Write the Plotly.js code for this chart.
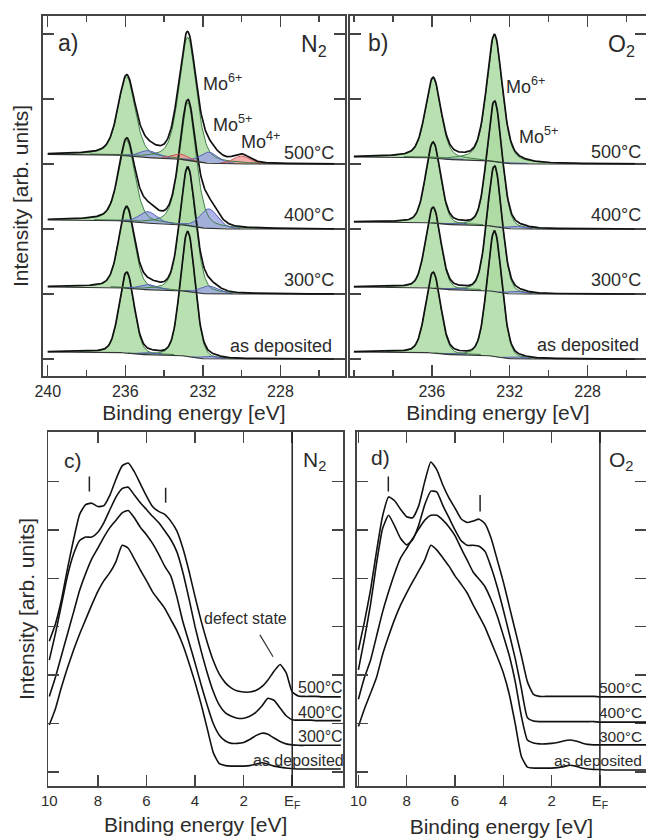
<!DOCTYPE html>
<html><head><meta charset="utf-8">
<script src="https://cdn.plot.ly/plotly-3.0.1.min.js"></script>
<style>html,body{margin:0;padding:0;background:#fff}#chart{width:646px;height:840px}</style>
</head><body><div id="chart"></div>
<script>
// ================= DATA =================
// --- Mo 3d XPS fits (panels a, b) ---
const xpsSpectra = ['as deposited', '300°C', '400°C', '500°C'];
const xpsOffsets = [0, 1, 2, 3];
const mo6Pos = [232.78, 235.93];   // Mo6+ 3d5/2, 3d3/2 [eV]
const mo5Pos = [231.70, 234.85];   // Mo5+
const mo4Pos = [230.00, 233.15];   // Mo4+
const mo5Fwhm = 1.1;
const mo4Fwhm = 1.0;
// N2 annealing (panel a)  order: as deposited, 300, 400, 500
const n2Mo6Height = [[1.92, 1.24], [1.90, 1.24], [1.90, 1.25], [1.90, 1.22]];
const n2Mo5Height = [[0.04, 0.03], [0.12, 0.08], [0.30, 0.18], [0.17, 0.11]];
const n2Mo4Height = [[0, 0], [0, 0], [0, 0], [0.12, 0.08]];
const n2Mo6Fwhm = [0.90, 0.95, 1.00, 1.05];
const n2Mo6Lorentz = [0.20, 0.30, 0.40, 0.40];
const n2BgStep = [0.11, 0.11, 0.14, 0.15];
// O2 annealing (panel b)
const o2Mo6Height = [[1.93, 1.24], [1.93, 1.24], [1.93, 1.24], [1.95, 1.23]];
const o2Mo5Height = [[0.03, 0.02], [0.04, 0.025], [0.04, 0.025], [0.02, 0.015]];
const o2Mo4Height = [[0, 0], [0, 0], [0, 0], [0, 0]];
const o2Mo6Fwhm = [0.90, 0.90, 0.90, 0.95];
const o2Mo6Lorentz = [0.20, 0.20, 0.22, 0.40];
const o2BgStep = [0.11, 0.11, 0.11, 0.11];

// --- Valence band spectra (panels c, d) ---
const vbEnergy = [10, 9.75, 9.5, 9.25, 9, 8.75, 8.5, 8.25, 8, 7.75, 7.5, 7.25, 7, 6.75, 6.5, 6.25, 6, 5.75, 5.5, 5.25, 5, 4.75, 4.5, 4.25, 4, 3.75, 3.5, 3.25, 3, 2.75, 2.5, 2.25, 2, 1.75, 1.5, 1.25, 1, 0.75, 0.5, 0.25, 0, -0.25, -0.5, -0.75, -1, -1.25, -1.5, -1.75, -2];
const vbN2_500 = [2.70, 3.05, 3.55, 4.20, 4.80, 5.32, 5.52, 5.55, 5.48, 5.50, 5.72, 6.05, 6.32, 6.38, 6.20, 5.95, 5.70, 5.48, 5.38, 5.32, 5.18, 4.98, 4.62, 4.15, 3.62, 3.12, 2.68, 2.30, 2.02, 1.84, 1.73, 1.67, 1.65, 1.65, 1.68, 1.76, 1.90, 2.08, 2.22, 2.05, 1.65, 1.57, 1.56, 1.56, 1.56, 1.55, 1.55, 1.55, 1.55];
const vbN2_400 = [2.31, 2.85, 3.45, 4.05, 4.50, 4.78, 4.85, 4.85, 4.95, 5.15, 5.42, 5.68, 5.85, 5.88, 5.72, 5.56, 5.42, 5.28, 5.15, 4.98, 4.80, 4.55, 4.12, 3.58, 3.00, 2.50, 2.05, 1.66, 1.38, 1.22, 1.15, 1.11, 1.11, 1.15, 1.23, 1.36, 1.52, 1.48, 1.32, 1.16, 1.08, 1.07, 1.07, 1.07, 1.06, 1.06, 1.06, 1.06, 1.06];
const vbN2_300 = [1.56, 1.95, 2.40, 2.85, 3.30, 3.75, 4.10, 4.40, 4.62, 4.85, 5.05, 5.20, 5.35, 5.40, 5.25, 5.05, 4.90, 4.72, 4.50, 4.25, 4.05, 3.62, 3.10, 2.68, 2.25, 1.80, 1.38, 1.00, 0.76, 0.64, 0.59, 0.59, 0.61, 0.67, 0.75, 0.80, 0.78, 0.70, 0.63, 0.58, 0.56, 0.55, 0.55, 0.55, 0.55, 0.55, 0.55, 0.55, 0.55];
const vbN2_asdep = [0.97, 1.30, 1.75, 2.15, 2.52, 2.85, 3.15, 3.45, 3.73, 3.95, 4.12, 4.35, 4.68, 4.62, 4.40, 4.17, 3.95, 3.72, 3.55, 3.38, 3.15, 2.92, 2.62, 2.25, 1.85, 1.40, 0.90, 0.40, 0.17, 0.13, 0.12, 0.12, 0.12, 0.13, 0.16, 0.19, 0.16, 0.12, 0.10, 0.08, 0.07, 0.06, 0.06, 0.06, 0.06, 0.06, 0.06, 0.06, 0.06];
const vbO2_500 = [2.52, 3.10, 3.75, 4.55, 5.28, 5.68, 5.60, 5.42, 5.27, 5.25, 5.50, 6.00, 6.40, 6.24, 5.92, 5.66, 5.45, 5.23, 5.15, 5.18, 5.22, 5.12, 4.82, 4.38, 3.93, 3.42, 2.91, 2.40, 1.86, 1.60, 1.56, 1.56, 1.56, 1.56, 1.56, 1.56, 1.56, 1.56, 1.56, 1.56, 1.55, 1.55, 1.55, 1.55, 1.55, 1.55, 1.55, 1.55, 1.55];
const vbO2_400 = [2.11, 2.75, 3.45, 4.30, 5.02, 5.30, 5.08, 4.82, 4.69, 4.80, 5.10, 5.52, 5.80, 5.78, 5.50, 5.25, 5.00, 4.78, 4.68, 4.68, 4.66, 4.55, 4.22, 3.82, 3.35, 2.85, 2.33, 1.72, 1.12, 1.05, 1.04, 1.04, 1.04, 1.04, 1.04, 1.04, 1.04, 1.04, 1.04, 1.04, 1.03, 1.03, 1.03, 1.03, 1.03, 1.03, 1.03, 1.03, 1.03];
const vbO2_300 = [1.50, 1.95, 2.30, 2.80, 3.30, 3.72, 4.10, 4.42, 4.62, 4.82, 5.02, 5.20, 5.30, 5.30, 5.20, 5.06, 4.88, 4.62, 4.38, 4.13, 3.98, 3.82, 3.55, 3.22, 2.82, 2.40, 1.85, 1.15, 0.66, 0.60, 0.58, 0.58, 0.59, 0.61, 0.64, 0.66, 0.64, 0.60, 0.57, 0.56, 0.56, 0.56, 0.56, 0.56, 0.56, 0.56, 0.56, 0.56, 0.56];
const vbO2_asdep = [0.94, 1.30, 1.62, 1.95, 2.42, 2.80, 3.15, 3.45, 3.70, 3.93, 4.15, 4.38, 4.68, 4.58, 4.42, 4.25, 4.05, 3.88, 3.70, 3.45, 3.22, 2.98, 2.68, 2.38, 2.05, 1.60, 0.98, 0.32, 0.10, 0.08, 0.08, 0.08, 0.08, 0.09, 0.11, 0.14, 0.12, 0.08, 0.06, 0.05, 0.05, 0.04, 0.04, 0.04, 0.04, 0.04, 0.04, 0.04, 0.04];
// feature markers "|" (energy, bottom, top) and defect-state pointer
const markN2 = [[8.35, 5.79, 6.10], [5.21, 5.56, 5.87]];
const markO2 = [[8.76, 5.79, 6.10], [4.96, 5.38, 5.72]];
const defectPointer = [1.33, 2.83, 0.79, 2.38];

// ================= BUILD =================
const W = 646, H = 840;
const GREEN_FILL = 'rgba(172,218,162,0.85)', GREEN_LINE = '#3f7f45';
const BLUE_FILL = 'rgba(155,163,228,0.80)', BLUE_LINE = '#5561b5';
const RED_FILL = 'rgba(240,150,150,0.80)', RED_LINE = '#c65656';

const xpsE = [];
for (let i = 0; i <= 375; i++) xpsE.push(+(240 - i * 0.04).toFixed(2));

function pv(e, c, h, w, eta) {
  const x = (e - c) / w;
  return h * (eta / (1 + 4 * x * x) + (1 - eta) * Math.exp(-4 * Math.LN2 * x * x));
}

const fillTraces = [], lineTraces = [];

function buildXps(xa, ya, k, mo6H, mo5H, mo4H, fw, eta, step, off) {
  const groups = [
    {pos: mo6Pos, h: mo6H, w: fw, eta: eta, fill: GREEN_FILL, line: GREEN_LINE},
    {pos: mo5Pos, h: mo5H, w: mo5Fwhm, eta: 0.25, fill: BLUE_FILL, line: BLUE_LINE},
    {pos: mo4Pos, h: mo4H, w: mo4Fwhm, eta: 0.25, fill: RED_FILL, line: RED_LINE}
  ];
  const comps = [];
  const total = xpsE.map(() => 0);
  groups.forEach(g => {
    g.pos.forEach((p, j) => {
      if (g.h[j] <= 0) return;
      const y = xpsE.map(e => pv(e, p, g.h[j], g.w, g.eta));
      y.forEach((v, i) => total[i] += v);
      comps.push({y, fill: g.fill, line: g.line});
    });
  });
  // Shirley-type background step
  const cum = new Array(xpsE.length).fill(0);
  let s = 0;
  for (let i = xpsE.length - 1; i >= 0; i--) { s += total[i]; cum[i] = s; }
  const bg = cum.map(c => off + step * c / s);
  const env = bg.map((b, i) => b + total[i]);
  comps.forEach(c => {
    const idx = [];
    c.y.forEach((v, i) => { if (v > 0.002) idx.push(i); });
    if (!idx.length) return;
    const xs = idx.map(i => xpsE[i]);
    const top = idx.map(i => bg[i] + c.y[i]);
    const bot = idx.map(i => bg[i]);
    fillTraces.push({x: xs.concat(xs.slice().reverse()), y: top.concat(bot.slice().reverse()),
      type: 'scatter', mode: 'lines', fill: 'toself', fillcolor: c.fill, line: {width: 0},
      xaxis: xa, yaxis: ya, hoverinfo: 'skip'});
    const idx2 = idx.filter(i => c.y[i] > 0.008);
    lineTraces.push({x: idx2.map(i => xpsE[i]), y: idx2.map(i => bg[i] + c.y[i]),
      type: 'scatter', mode: 'lines', line: {color: c.line, width: 1}, xaxis: xa, yaxis: ya, hoverinfo: 'skip'});
  });
  lineTraces.push({x: xpsE, y: bg, type: 'scatter', mode: 'lines', line: {color: '#333', width: 1.1}, xaxis: xa, yaxis: ya});
  lineTraces.push({x: xpsE, y: env, type: 'scatter', mode: 'lines', name: xpsSpectra[k], line: {color: '#111', width: 1.7}, xaxis: xa, yaxis: ya});
}

for (let k = 0; k < 4; k++) {
  buildXps('x', 'y', k, n2Mo6Height[k], n2Mo5Height[k], n2Mo4Height[k], n2Mo6Fwhm[k], n2Mo6Lorentz[k], n2BgStep[k], xpsOffsets[k]);
  buildXps('x2', 'y2', k, o2Mo6Height[k], o2Mo5Height[k], o2Mo4Height[k], o2Mo6Fwhm[k], o2Mo6Lorentz[k], o2BgStep[k], xpsOffsets[k]);
}

const vbTraces = [];
[[vbN2_asdep, vbN2_300, vbN2_400, vbN2_500, 'x3', 'y3'], [vbO2_asdep, vbO2_300, vbO2_400, vbO2_500, 'x4', 'y4']].forEach(set => {
  for (let k = 0; k < 4; k++) {
    vbTraces.push({x: vbEnergy, y: set[k], type: 'scatter', mode: 'lines', name: xpsSpectra[k],
      line: {color: '#111', width: 1.6, shape: 'spline', smoothing: 0.5}, xaxis: set[4], yaxis: set[5]});
  }
});

// ================= LAYOUT =================
const AX = {showgrid: false, zeroline: false, showline: true, linecolor: '#444', linewidth: 1.8,
  mirror: 'ticks', ticks: 'inside', tickcolor: '#444', tickwidth: 1.5, fixedrange: true};
const dx = (a, b) => [a / W, b / W];
const dy = (top, bot) => [1 - bot / H, 1 - top / H];
const TITLE_FONT = {size: 21, color: '#2b2b2b'};

const layout = {
  width: W, height: H, margin: {l: 0, r: 0, t: 0, b: 0},
  paper_bgcolor: '#fff', plot_bgcolor: '#fff', showlegend: false,
  font: {family: 'Liberation Sans, Arial, sans-serif', color: '#2b2b2b'},
  xaxis: Object.assign({}, AX, {domain: dx(42.7, 345), range: [240.26, 224.67], anchor: 'y',
    tickmode: 'array', tickvals: [240, 236, 232, 228], ticklen: 11, tickfont: {size: 16},
    minor: {tickmode: 'array', tickvals: [238, 234, 230, 226], ticks: 'inside', ticklen: 6, tickcolor: '#444', tickwidth: 1.5},
    title: {text: 'Binding energy [eV]', font: TITLE_FONT, standoff: 6}}),
  yaxis: Object.assign({}, AX, {domain: dy(16, 376), range: [-0.26, 5.28], anchor: 'x',
    tickmode: 'array', tickvals: [0, 1, 2, 3, 4, 5], ticklen: 11, showticklabels: false,
    title: {text: 'Intensity [arb. units]', font: TITLE_FONT, standoff: 6}}),
  xaxis2: Object.assign({}, AX, {domain: dx(350, 646), range: [240.2, 225.0], anchor: 'y2',
    tickmode: 'array', tickvals: [236, 232, 228], ticklen: 11, tickfont: {size: 16},
    minor: {tickmode: 'array', tickvals: [240, 238, 234, 230, 226], ticks: 'inside', ticklen: 6, tickcolor: '#444', tickwidth: 1.5},
    title: {text: 'Binding energy [eV]', font: TITLE_FONT, standoff: 6}}),
  yaxis2: Object.assign({}, AX, {domain: dy(16, 376), range: [-0.26, 5.28], anchor: 'x2',
    tickmode: 'array', tickvals: [0, 1, 2, 3, 4, 5], ticklen: 11, showticklabels: false}),
  xaxis3: Object.assign({}, AX, {domain: dx(48.3, 343), range: [10.04, -2.09], anchor: 'y3',
    tickmode: 'array', tickvals: [10, 8, 6, 4, 2, 0], ticktext: ['10', '8', '6', '4', '2', 'E<sub>F</sub>'],
    ticklen: 11, tickfont: {size: 15},
    title: {text: 'Binding energy [eV]', font: TITLE_FONT, standoff: 7}}),
  yaxis3: Object.assign({}, AX, {domain: dy(432, 786), range: [-0.29, 7.02], anchor: 'x3',
    tickmode: 'array', tickvals: [0, 1, 2, 3, 4, 5, 6, 7], ticklen: 11, showticklabels: false,
    title: {text: 'Intensity [arb. units]', font: TITLE_FONT, standoff: 6}}),
  xaxis4: Object.assign({}, AX, {domain: dx(356.7, 646), range: [10.07, -1.91], anchor: 'y4',
    tickmode: 'array', tickvals: [10, 8, 6, 4, 2, 0], ticktext: ['10', '8', '6', '4', '2', 'E<sub>F</sub>'],
    ticklen: 11, tickfont: {size: 15},
    title: {text: 'Binding energy [eV]', font: TITLE_FONT, standoff: 9}}),
  yaxis4: Object.assign({}, AX, {domain: dy(432, 786), range: [-0.29, 7.02], anchor: 'x4',
    tickmode: 'array', tickvals: [0, 1, 2, 3, 4, 5, 6, 7], ticklen: 11, showticklabels: false}),
  shapes: [], annotations: []
};

// Fermi level lines
['3', '4'].forEach(n => layout.shapes.push({type: 'line', xref: 'x' + n, yref: 'y' + n + ' domain',
  x0: 0, x1: 0, y0: 0, y1: 1, line: {color: '#222', width: 1.5}}));
markN2.forEach(m => layout.shapes.push({type: 'line', xref: 'x3', yref: 'y3', x0: m[0], x1: m[0], y0: m[1], y1: m[2], line: {color: '#222', width: 1.5}}));
markO2.forEach(m => layout.shapes.push({type: 'line', xref: 'x4', yref: 'y4', x0: m[0], x1: m[0], y0: m[1], y1: m[2], line: {color: '#222', width: 1.5}}));
layout.shapes.push({type: 'line', xref: 'x3', yref: 'y3', x0: defectPointer[0], y0: defectPointer[1], x1: defectPointer[2], y1: defectPointer[3], line: {color: '#333', width: 1.2}});

function txt(text, px, py, size, xanchor) {
  layout.annotations.push({text, x: px / W, y: 1 - py / H, xref: 'paper', yref: 'paper',
    xanchor: xanchor || 'left', yanchor: 'middle', showarrow: false, font: {size, color: '#2b2b2b'}});
}
// panel a
txt('a)', 56, 43, 23); txt('N<sub>2</sub>', 299, 45, 23);
txt('Mo<sup>6+</sup>', 201, 83, 18); txt('Mo<sup>5+</sup>', 211, 123, 18); txt('Mo<sup>4+</sup>', 239, 141, 18);
txt('500°C', 282, 153, 18); txt('400°C', 282, 215, 18); txt('300°C', 282, 280, 18); txt('as deposited', 228, 346, 18);
// panel b
txt('b)', 366, 43, 23); txt('O<sub>2</sub>', 606, 45, 23);
txt('Mo<sup>6+</sup>', 504, 86, 18); txt('Mo<sup>5+</sup>', 517, 135, 18);
txt('500°C', 589, 152, 18); txt('400°C', 589, 215, 18); txt('300°C', 589, 280, 18); txt('as deposited', 535, 345, 18);
// panel c
txt('c)', 62, 460, 21); txt('N<sub>2</sub>', 301, 461, 21);
txt('defect state', 202, 618, 16);
txt('500°C', 296, 687, 16); txt('400°C', 296, 712, 16); txt('300°C', 296, 736, 16); txt('as deposited', 251, 760, 16);
// panel d
txt('d)', 369, 458, 21); txt('O<sub>2</sub>', 607, 461, 21);
txt('500°C', 644, 687, 15.5, 'right'); txt('400°C', 644, 712, 15.5, 'right'); txt('300°C', 644, 736, 15.5, 'right'); txt('as deposited', 644, 760, 15.5, 'right');

Plotly.newPlot('chart', fillTraces.concat(lineTraces, vbTraces), layout, {displayModeBar: false, staticPlot: true});
</script>
</body></html>
